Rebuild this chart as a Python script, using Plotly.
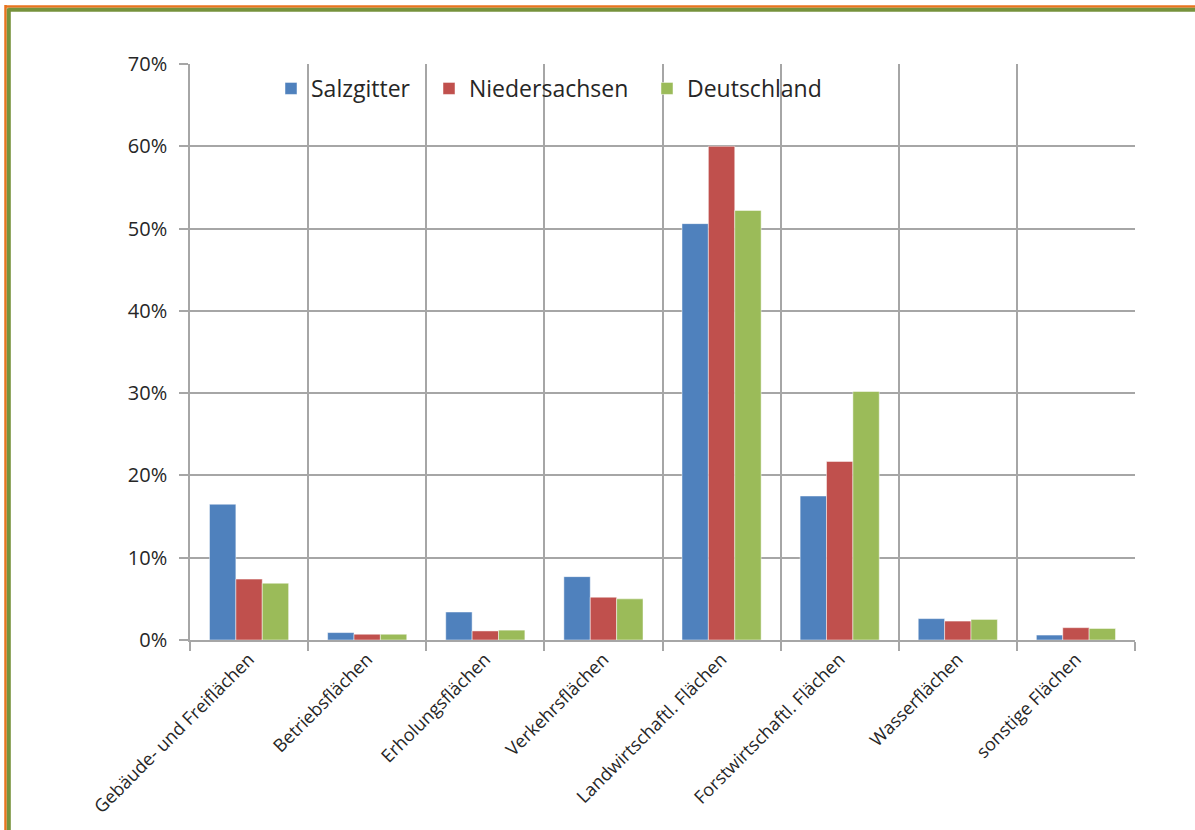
import plotly.graph_objects as go

categories = [
    "Gebäude- und Freiflächen",
    "Betriebsflächen",
    "Erholungsflächen",
    "Verkehrsflächen",
    "Landwirtschaftl. Flächen",
    "Forstwirtschaftl. Flächen",
    "Wasserflächen",
    "sonstige Flächen",
]
salzgitter = [0.165, 0.009, 0.034, 0.077, 0.506, 0.175, 0.026, 0.006]
niedersachsen = [0.074, 0.007, 0.011, 0.052, 0.600, 0.217, 0.023, 0.015]
deutschland = [0.069, 0.007, 0.012, 0.050, 0.522, 0.302, 0.025, 0.014]
y_ticks = [0, 0.1, 0.2, 0.3, 0.4, 0.5, 0.6, 0.7]

W, H = 1195, 830
L, R, T, B = 190, 60, 64, 190
PW, PH = W - L - R, H - T - B


def px_x(x):
    return (x - L) / PW


def px_y(y):
    return (H - B - y) / PH


FONT = "Open Sans"
GRID = "#a6a6a6"

series = [
    ("Salzgitter", salzgitter, "#4F81BD", "legend", 271),
    ("Niedersachsen", niedersachsen, "#C0504D", "legend2", 429),
    ("Deutschland", deutschland, "#9BBB59", "legend3", 647),
]

fig = go.Figure()
legends = {}
for name, vals, color, leg, lx in series:
    fig.add_trace(go.Bar(
        name=name, x=categories, y=vals, legend=leg,
        marker=dict(color=color, line=dict(color="rgba(255,255,255,0.6)", width=0.8)),
    ))
    legends[leg] = dict(orientation="h", x=px_x(lx), y=px_y(67), xanchor="left", yanchor="top",
                        bgcolor="rgba(0,0,0,0)", font=dict(size=23, family=FONT),
                        itemwidth=30)

# frame around the chart area (orange outer, green inner)
shapes = []
for pos, color, w in [(6.5, "#E8731E", 2.5), (9.8, "#76923C", 4)]:
    shapes.append(dict(type="line", xref="paper", yref="paper",
                       x0=px_x(pos - 1.5), x1=px_x(W + 5), y0=px_y(pos), y1=px_y(pos),
                       line=dict(color=color, width=w)))
    shapes.append(dict(type="line", xref="paper", yref="paper",
                       x0=px_x(pos - 1), x1=px_x(pos - 1), y0=px_y(pos - 1.5), y1=px_y(H + 5),
                       line=dict(color=color, width=w)))

fig.update_layout(
    width=W, height=H,
    margin=dict(l=L, r=R, t=T, b=B),
    paper_bgcolor="white", plot_bgcolor="white",
    barmode="group", bargap=0.33, bargroupgap=0,
    font=dict(family=FONT, color="#262626"),
    showlegend=True,
    xaxis=dict(
        tickson="boundaries", showgrid=True, gridcolor=GRID, gridwidth=1.5,
        ticks="outside", ticklen=9, tickcolor=GRID, tickwidth=1.5,
        showline=True, linecolor=GRID, linewidth=1.5,
        tickangle=-45, tickfont=dict(size=18, family=FONT),
    ),
    yaxis=dict(
        range=[0, 0.7], tickvals=y_ticks, tickformat=".0%",
        showgrid=True, gridcolor=GRID, gridwidth=1.5,
        ticks="outside", ticklen=9, tickcolor=GRID, tickwidth=1.5,
        showline=True, linecolor=GRID, linewidth=1.5,
        zeroline=False, tickfont=dict(size=20, family=FONT),
        ticklabelstandoff=8,
    ),
    shapes=shapes,
    **legends,
)

fig.write_html("out.html")
